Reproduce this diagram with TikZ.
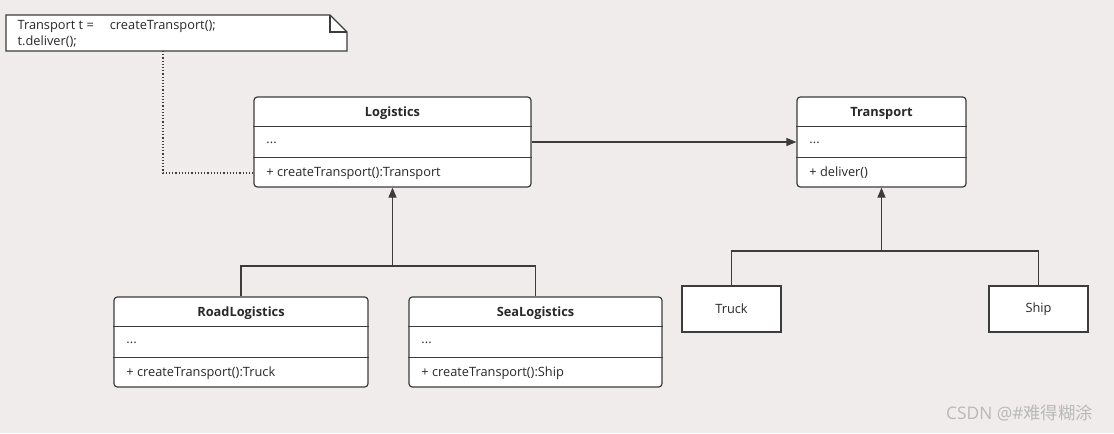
\documentclass[tikz,border=0pt]{standalone}
\usepackage{fontspec}
\setmainfont{Open Sans}
\newfontfamily\cjk{Noto Sans CJK SC}
\usetikzlibrary{arrows.meta,calc}
\definecolor{bgc}{RGB}{240,236,235}
\definecolor{linec}{RGB}{60,60,60}
\definecolor{textc}{RGB}{40,40,40}

\begin{document}
\begin{tikzpicture}[x=0.75pt, y=-0.75pt, line width=0.9pt, every node/.append style={text=textc, font=\fontsize{9.6}{12}\selectfont},
	cls/.style={draw=linec, fill=white, rounded corners=2.5pt, minimum height=67.5pt, inner sep=0pt},
	flat/.style={draw=linec, fill=white, minimum width=74.25pt, minimum height=34.5pt},
	inherit/.style={draw=linec, -{Triangle[length=7.5pt, width=6pt]}}]
	\path[fill=bgc, use as bounding box] (0,0) rectangle (1114,433);
	
	% note
	\draw[linec, fill=white] (6,15) -- (330,15) -- (347,32) -- (347,51) -- (6,51) -- cycle;
	\draw[linec] (330,15) -- (330,32) -- (347,32);
	\node[anchor=north west, align=left, inner sep=0pt, font=\fontsize{9.6}{12}\selectfont] (note) at (17,20) {Transport t =\hspace{12pt}createTransport();\\t.deliver();};
	\coordinate (notefoot) at (163,51);
	
	% classes
	\foreach \n/\x/\y/\w/\t/\m in {logi/392.5/142/277/Logistics/createTransport():Transport, trans/881.5/142/169/Transport/deliver(), road/241/342/254/RoadLogistics/createTransport():Truck, sea/535.5/342/253/SeaLogistics/createTransport():Ship}
	{
		\node[cls, minimum width=\w*0.75pt] (\n) at (\x,\y) {};
		\draw[linec] ($(\n.north west)+(0,30)$) -- ($(\n.north east)+(0,30)$);
		\draw[linec] ($(\n.south west)+(0,-30)$) -- ($(\n.south east)+(0,-30)$);
		\node[font=\fontsize{9.6}{12}\selectfont\bfseries] (\n-h) at ($(\n.north)+(0,17)$) {\t};
		\node[anchor=west] (\n-a) at ($(\n.west)+(8,1)$) {...};
		\node[anchor=west] (\n-m) at ($(\n.west)+(8,31)$) {+ \m};
	}
	
	\node[flat] (truck) at (731.5,309) {Truck};
	\node[flat] (ship) at (1038.5,309) {Ship};
	
	\draw[inherit] (logi) -- (trans);
	\draw[linec, dash pattern=on 0.9pt off 1.5pt] (notefoot) |- (logi-m -| logi.west);
	
	\coordinate (jl) at (392.5,266);
	\draw[inherit] (jl) -- (logi);
	\draw[linec] (road.north) |- (jl) -| (sea.north);
	
	\coordinate (jt) at (881.5,251);
	\draw[inherit] (jt) -- (trans);
	\draw[linec] (truck) |- (jt) -| (ship);
	
	\node[anchor=east, text=gray!55, font=\fontsize{13}{15}\selectfont] (mark) at (1098,413) {CSDN @\#{\cjk 难得糊涂}};
\end{tikzpicture}
\end{document}
